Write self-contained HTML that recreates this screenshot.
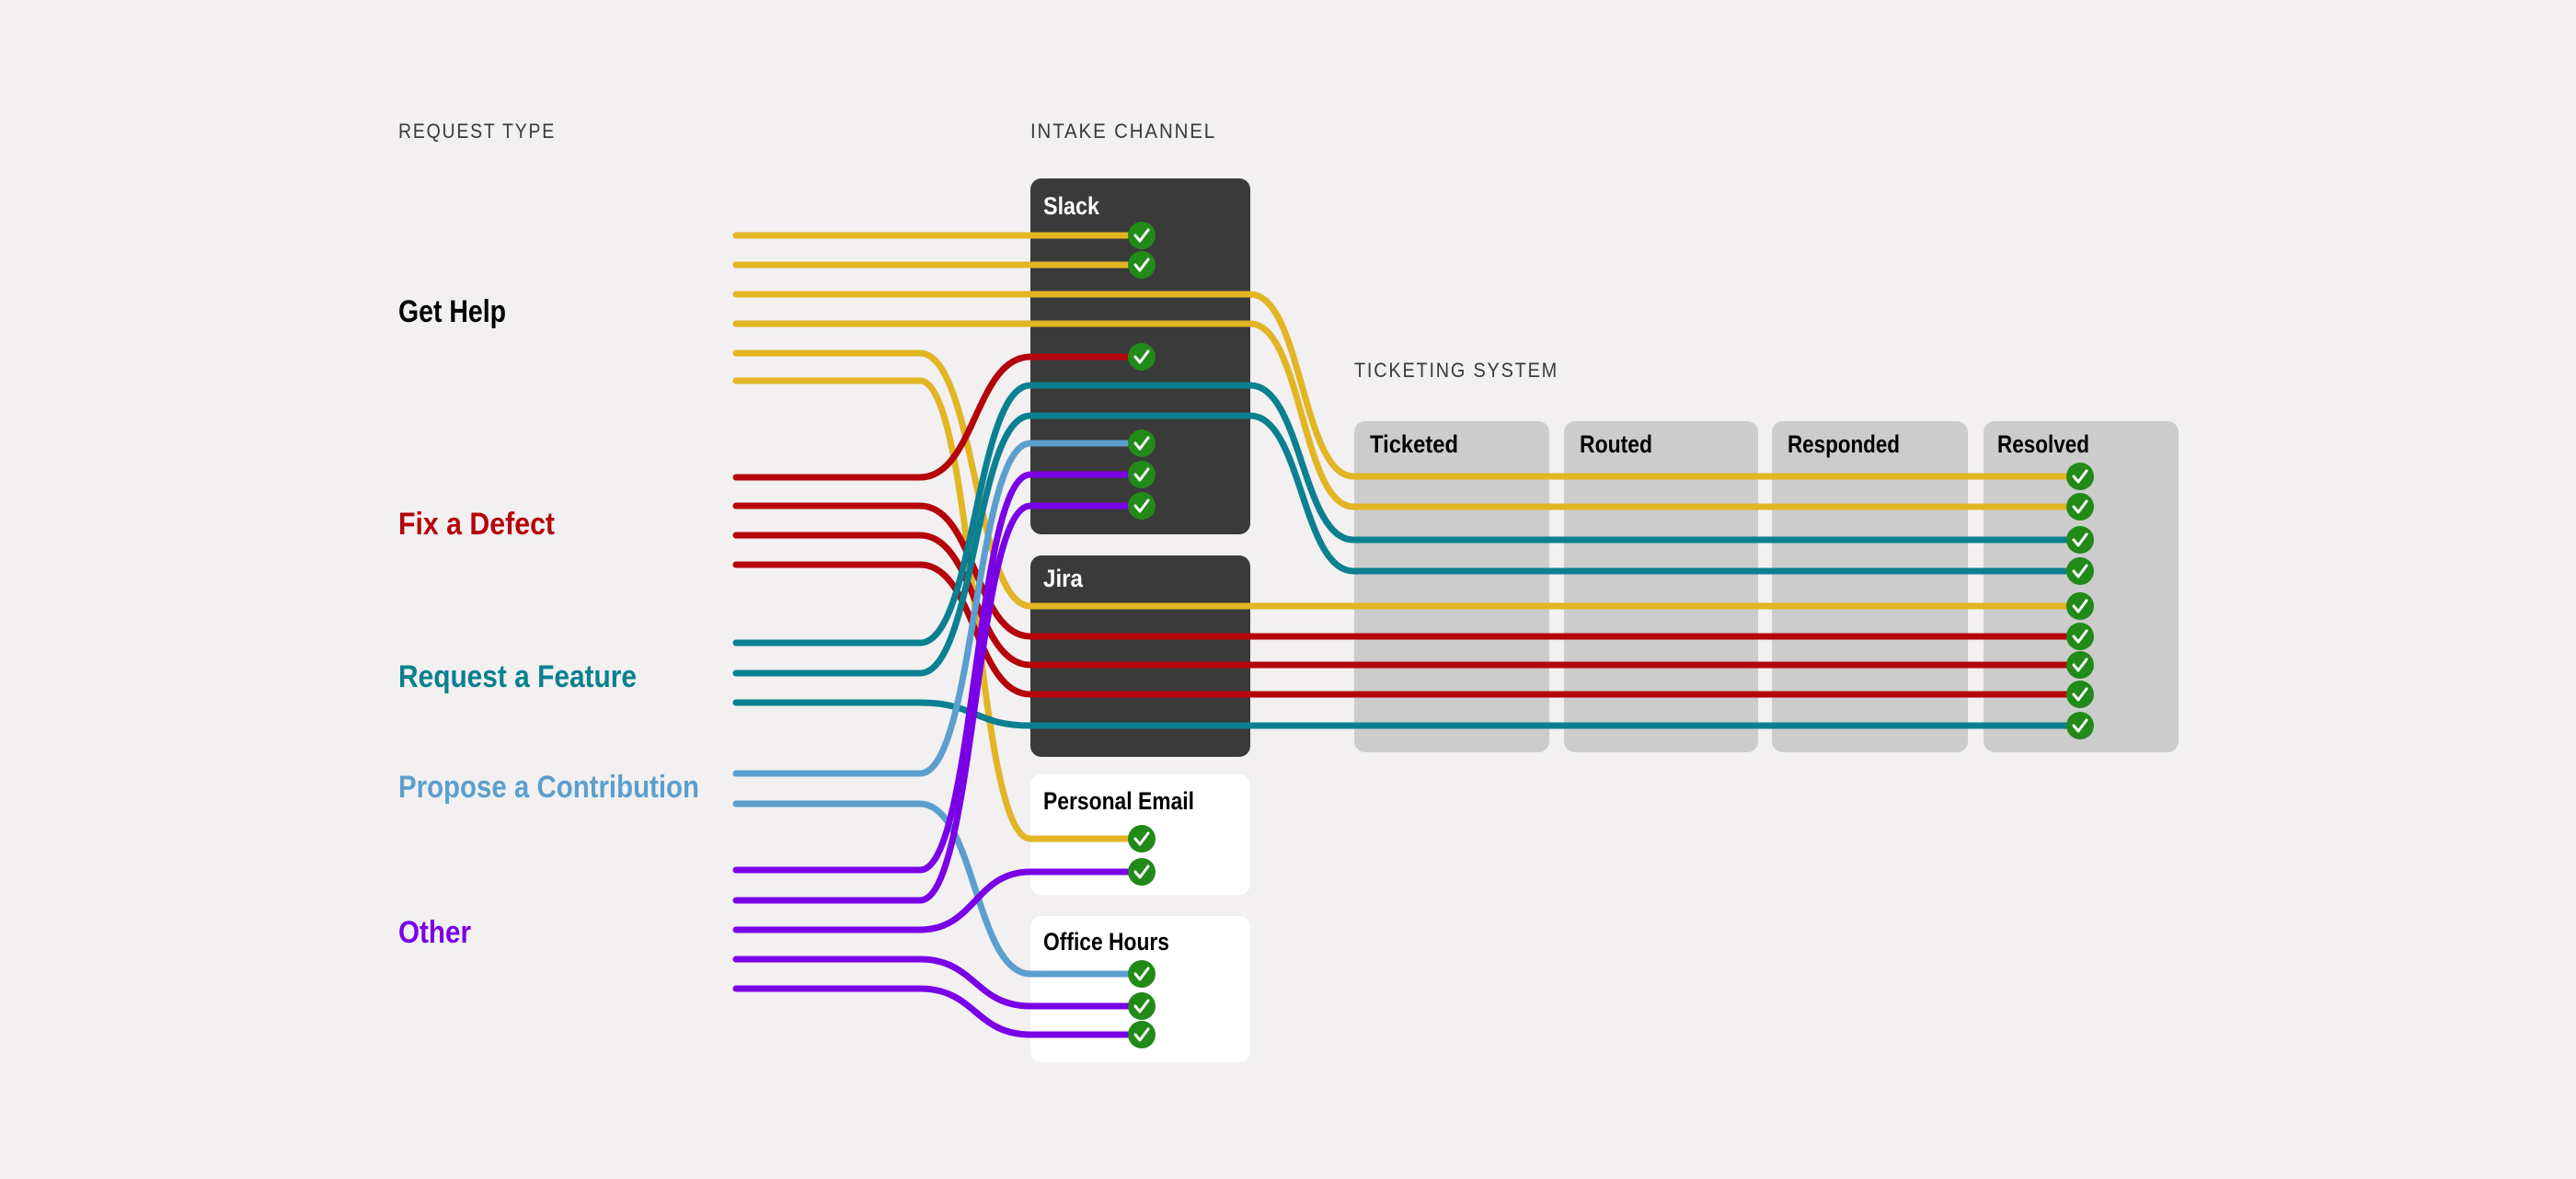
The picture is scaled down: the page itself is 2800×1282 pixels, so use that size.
<!DOCTYPE html>
<html><head><meta charset="utf-8"><style>
html,body{margin:0;padding:0;background:#F2F0F1;}
svg{display:block;}
text{font-family:"Liberation Sans Narrow","Liberation Sans",sans-serif;}
</style></head><body>
<svg width="2800" height="1282" viewBox="0 0 2800 1282" xmlns="http://www.w3.org/2000/svg">
<rect width="2800" height="1282" fill="#F2F0F1"/>
<g fill="#3a3a3a" font-size="22" letter-spacing="2">
<text x="433" y="150" textLength="171" lengthAdjust="spacingAndGlyphs">REQUEST TYPE</text>
<text x="1120" y="150" textLength="202" lengthAdjust="spacingAndGlyphs">INTAKE CHANNEL</text>
<text x="1472" y="410" textLength="222" lengthAdjust="spacingAndGlyphs">TICKETING SYSTEM</text>
</g>
<g font-size="34" font-weight="bold">
<text x="433" y="350" fill="#000" textLength="117" lengthAdjust="spacingAndGlyphs">Get Help</text>
<text x="433" y="581" fill="#B5040B" textLength="170" lengthAdjust="spacingAndGlyphs">Fix a Defect</text>
<text x="433" y="747" fill="#0A8090" textLength="259" lengthAdjust="spacingAndGlyphs">Request a Feature</text>
<text x="433" y="867" fill="#5B9FCF" textLength="327" lengthAdjust="spacingAndGlyphs">Propose a Contribution</text>
<text x="433" y="1025" fill="#7A00E6" textLength="79" lengthAdjust="spacingAndGlyphs">Other</text>
</g>
<!-- boxes -->
<rect x="1120" y="194" width="239" height="387" rx="12" fill="#3A3A3A"/>
<rect x="1120" y="604" width="239" height="219" rx="12" fill="#3A3A3A"/>
<rect x="1120" y="842" width="239" height="131" rx="12" fill="#FFFFFF"/>
<rect x="1120" y="996" width="239" height="159" rx="12" fill="#FFFFFF"/>
<rect x="1472" y="458" width="212" height="360" rx="12" fill="#CCCCCC"/>
<rect x="1700" y="458" width="211" height="360" rx="12" fill="#CCCCCC"/>
<rect x="1926" y="458" width="213" height="360" rx="12" fill="#CCCCCC"/>
<rect x="2156" y="458" width="212" height="360" rx="12" fill="#CCCCCC"/>
<g font-size="27" font-weight="bold">
<text x="1134" y="233" fill="#fff" textLength="61" lengthAdjust="spacingAndGlyphs">Slack</text>
<text x="1134" y="638" fill="#fff" textLength="43" lengthAdjust="spacingAndGlyphs">Jira</text>
<text x="1134" y="880" fill="#000" textLength="164" lengthAdjust="spacingAndGlyphs">Personal Email</text>
<text x="1134" y="1033" fill="#000" textLength="137" lengthAdjust="spacingAndGlyphs">Office Hours</text>
<text x="1489" y="492" fill="#000" textLength="96" lengthAdjust="spacingAndGlyphs">Ticketed</text>
<text x="1717" y="492" fill="#000" textLength="79" lengthAdjust="spacingAndGlyphs">Routed</text>
<text x="1943" y="492" fill="#000" textLength="122" lengthAdjust="spacingAndGlyphs">Responded</text>
<text x="2171" y="492" fill="#000" textLength="100" lengthAdjust="spacingAndGlyphs">Resolved</text>
</g>
<g fill="none" stroke-width="7" stroke-linecap="round">
<g stroke="#E2B524">
<path d="M800 256 H1241"/>
<path d="M800 288 H1241"/>
<path d="M800 320 H1359 C1415 320 1415 518 1471 518 H2261"/>
<path d="M800 352 H1359 C1415 352 1415 551 1471 551 H2261"/>
<path d="M800 384 H1000 C1060 384 1060 659 1120 659 H2261"/>
<path d="M800 414 H1000 C1060 414 1060 912 1120 912 H1241"/>
</g>
<g stroke="#B5040B">
<path d="M800 519 H1000 C1060 519 1060 388 1120 388 H1241"/>
<path d="M800 550 H1000 C1060 550 1060 692 1120 692 H2261"/>
<path d="M800 582 H1000 C1060 582 1060 723 1120 723 H2261"/>
<path d="M800 614 H1000 C1060 614 1060 755 1120 755 H2261"/>
</g>
<g stroke="#0A8090">
<path d="M800 699 H1000 C1060 699 1060 419 1120 419 H1359 C1415 419 1415 587 1471 587 H2261"/>
<path d="M800 732 H1000 C1060 732 1060 452 1120 452 H1359 C1415 452 1415 621 1471 621 H2261"/>
<path d="M800 764 H1000 C1060 764 1060 789 1120 789 H2261"/>
</g>
<g stroke="#5B9FCF">
<path d="M800 841 H1000 C1060 841 1060 482 1120 482 H1241"/>
<path d="M800 874 H1000 C1060 874 1060 1059 1120 1059 H1241"/>
</g>
<g stroke="#7A00E6">
<path d="M800 946 H1000 C1060 946 1060 516 1120 516 H1241"/>
<path d="M800 979 H1000 C1060 979 1060 550 1120 550 H1241"/>
<path d="M800 1011 H1000 C1060 1011 1060 948 1120 948 H1241"/>
<path d="M800 1043 H1000 C1060 1043 1060 1094 1120 1094 H1241"/>
<path d="M800 1075 H1000 C1060 1075 1060 1125 1120 1125 H1241"/>
</g>
</g>
<defs>
<g id="ck"><circle r="15" fill="#218A18"/><path d="M-7 0 L-2 6 L7 -6" fill="none" stroke="#fff" stroke-width="3" stroke-linecap="round" stroke-linejoin="round"/></g>
</defs>
<use href="#ck" x="1241" y="256"/><use href="#ck" x="1241" y="288"/><use href="#ck" x="1241" y="388"/>
<use href="#ck" x="1241" y="482"/><use href="#ck" x="1241" y="516"/><use href="#ck" x="1241" y="550"/>
<use href="#ck" x="1241" y="912"/><use href="#ck" x="1241" y="948"/>
<use href="#ck" x="1241" y="1059"/><use href="#ck" x="1241" y="1094"/><use href="#ck" x="1241" y="1125"/>
<use href="#ck" x="2261" y="518"/><use href="#ck" x="2261" y="551"/><use href="#ck" x="2261" y="587"/>
<use href="#ck" x="2261" y="621"/><use href="#ck" x="2261" y="659"/><use href="#ck" x="2261" y="692"/>
<use href="#ck" x="2261" y="723"/><use href="#ck" x="2261" y="755"/><use href="#ck" x="2261" y="789"/>
</svg>
</body></html>
